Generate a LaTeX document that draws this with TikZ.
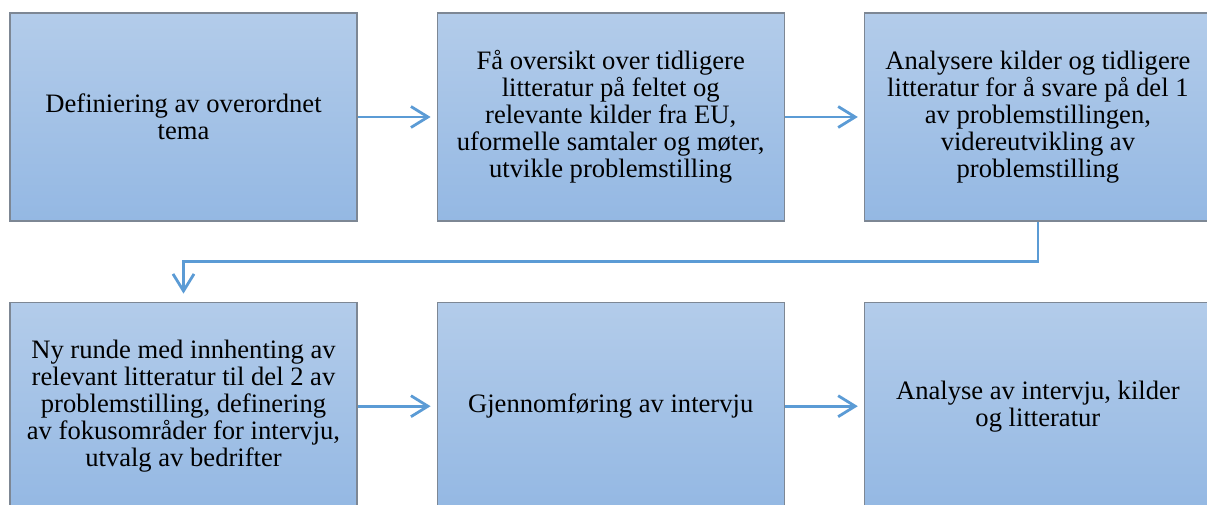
\documentclass[tikz,border=0pt]{standalone}
\usepackage{fontspec}
\setmainfont{Liberation Serif}
\usepackage{xcolor}
\usepackage{tikz}
\usetikzlibrary{positioning,arrows.meta}
\definecolor{boxtop}{HTML}{B3CCEA}
\definecolor{boxbottom}{HTML}{94B8E3}
\definecolor{boxline}{HTML}{7D8794}
\definecolor{linkblue}{HTML}{5B9BD5}

\begin{document}
\begin{tikzpicture}[
  x=1pt, y=-1pt,
  font=\fontsize{26.6}{27}\selectfont,
  box/.style={draw=boxline, line width=1.2pt, top color=boxtop, bottom color=boxbottom,
    minimum width=347pt, minimum height=208pt, align=center, inner sep=4pt},
  arrow/.style={-{Straight Barb[length=17pt,width=21pt]}, line width=2.8pt, color=linkblue, shorten >=6pt}
]
\useasboundingbox (0,0) rectangle (1207,505);

\node[box] (tema) at (183.5,117) {%
  Definiering av overordnet\\
  tema};
\node[box, right=79pt of tema] (oversikt) {%
  Få oversikt over tidligere\\
  litteratur på feltet og\\
  relevante kilder fra EU,\\
  uformelle samtaler og møter,\\
  utvikle problemstilling};
\node[box, right=79pt of oversikt] (analyse) {%
  Analysere kilder og tidligere\\
  litteratur for å svare på del 1\\
  av problemstillingen,\\
  videreutvikling av\\
  problemstilling};
\node[box, below=80pt of tema] (nyrunde) {%
  Ny runde med innhenting av\\
  relevant litteratur til del 2 av\\
  problemstilling, definering\\
  av fokusområder for intervju,\\
  utvalg av bedrifter};
\node[box, right=79pt of nyrunde] (intervju) {%
  Gjennomføring av intervju};
\node[box, right=79pt of intervju] (sluttanalyse) {%
  Analyse av intervju, kilder\\
  og litteratur};

\draw[arrow] (tema.east) -- (oversikt.west);
\draw[arrow] (oversikt.east) -- (analyse.west);
\draw[arrow, shorten >=8pt] (analyse.south) -- ++(0,40) -| (nyrunde.north);
\draw[arrow] (nyrunde.east) -- (intervju.west);
\draw[arrow] (intervju.east) -- (sluttanalyse.west);
\end{tikzpicture}
\end{document}
